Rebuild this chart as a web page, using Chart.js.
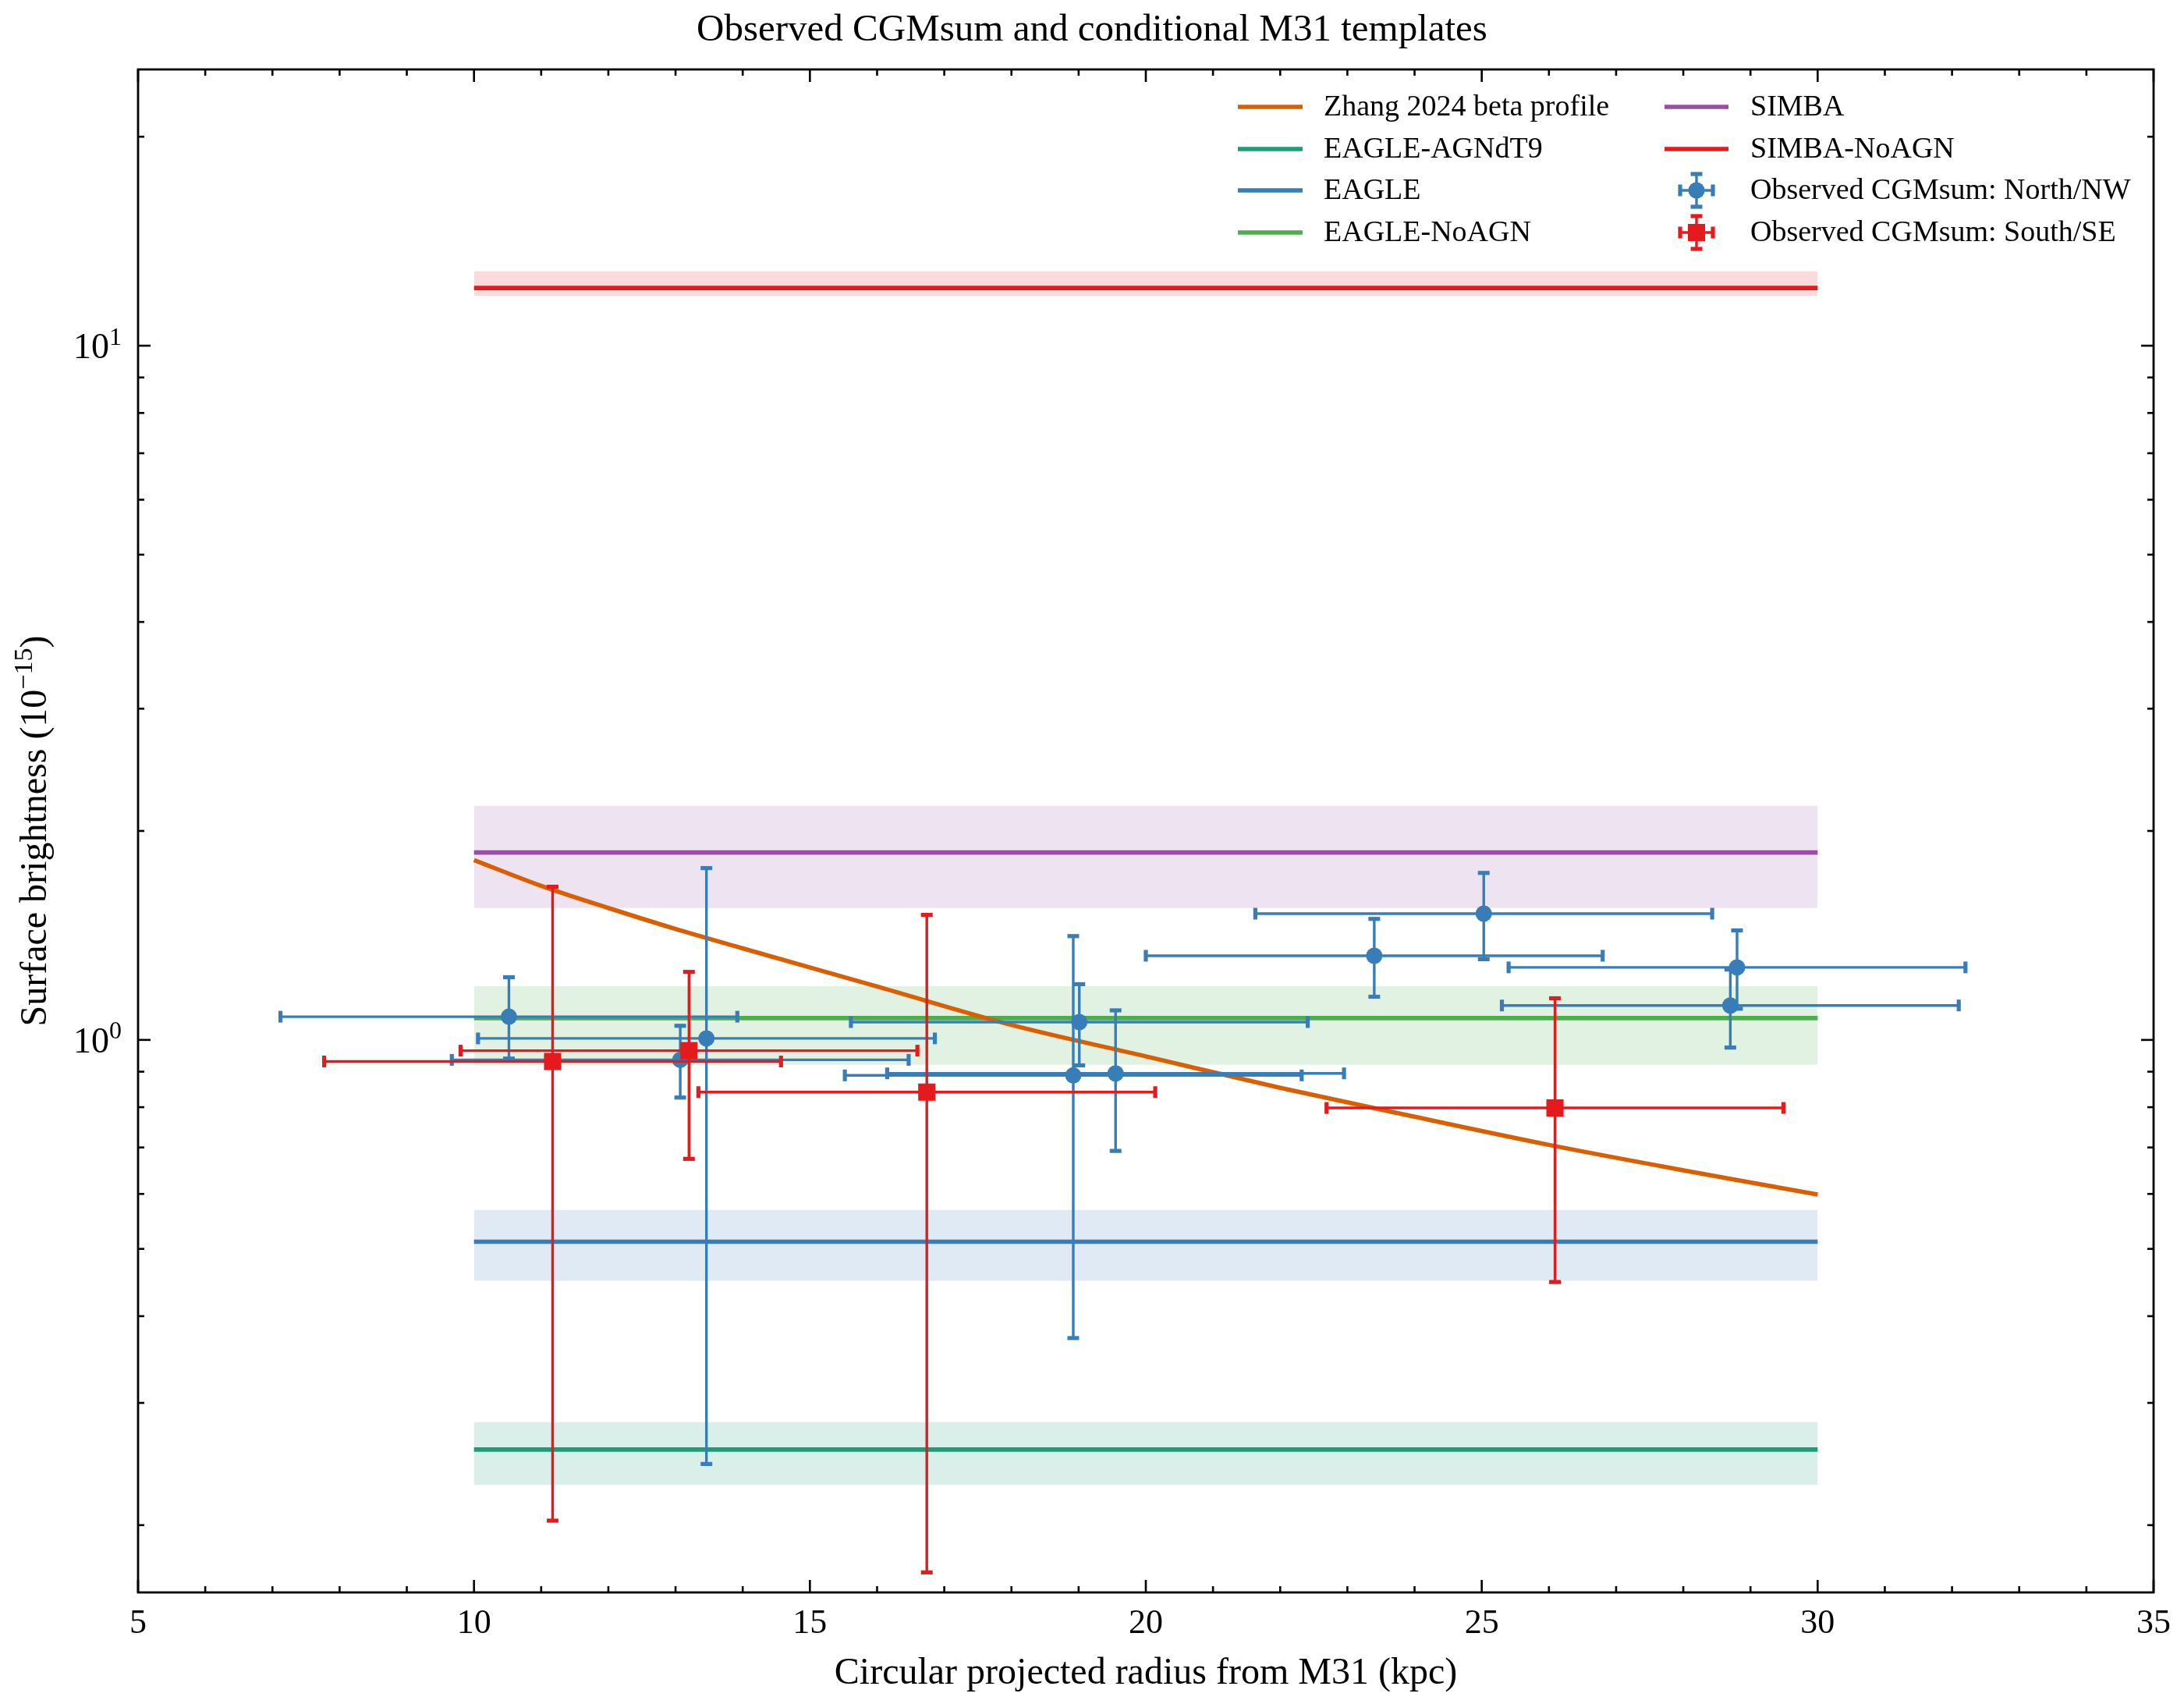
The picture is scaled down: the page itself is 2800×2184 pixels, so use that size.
<!DOCTYPE html>
<html><head><meta charset="utf-8">
<script src="https://cdn.jsdelivr.net/npm/chart.js@4.4.1/dist/chart.umd.min.js"></script>
<style>html,body{margin:0;padding:0;background:#fff}#wrap{width:2800px;height:2184px}</style>
</head><body><div id="wrap"><canvas id="c" width="2800" height="2184"></canvas></div>
<script>
// ---------------- data ----------------
const chartTitle = 'Observed CGMsum and conditional M31 templates';
const xAxisTitle = 'Circular projected radius from M31 (kpc)';
const yAxisTitleParts = [{t:'Surface brightness (10'},{t:'\u221215',sup:true},{t:')'}];

const xMajorTicks = [5, 10, 15, 20, 25, 30, 35];
const xTickLabels = ['5', '10', '15', '20', '25', '30', '35'];
const xMinorTicks = [6,7,8,9,11,12,13,14,16,17,18,19,21,22,23,24,26,27,28,29,31,32,33,34];
const yMajorTicks = [1, 10];
const yTickBase = ['10', '10'];
const yTickExp = ['0', '1'];
const yMinorTicks = [0.2,0.3,0.4,0.5,0.6,0.7,0.8,0.9,2,3,4,5,6,7,8,9,20];

// model: Zhang 2024 beta profile
const zhangX = [10, 11, 12, 13, 14, 16, 18, 20, 22, 24, 26, 28, 30];
const zhangY = [1.816, 1.667, 1.549, 1.445, 1.355, 1.194, 1.051, 0.947, 0.853, 0.775, 0.706, 0.649, 0.599];

// conditional templates (flat over 10-30 kpc)
const templateNames = ['EAGLE-AGNdT9', 'EAGLE', 'EAGLE-NoAGN', 'SIMBA', 'SIMBA-NoAGN'];
const templateX = [10, 30];
const templateMid = [0.257, 0.512, 1.075, 1.862, 12.11];
const templateLo  = [0.2285, 0.450, 0.921, 1.549, 11.80];
const templateHi  = [0.2814, 0.569, 1.195, 2.174, 12.80];

// observed CGMsum North/NW
const northX    = [10.52, 13.46, 13.07, 19.01, 18.92, 19.55, 25.03, 23.40, 28.80, 28.70];
const northXErr = [3.40, 3.40, 3.40, 3.40, 3.40, 3.40, 3.40, 3.40, 3.40, 3.40];
const northY    = [1.080, 1.005, 0.936, 1.061, 0.889, 0.895, 1.520, 1.322, 1.272, 1.121];
const northYLo  = [0.940, 0.245, 0.826, 0.919, 0.372, 0.692, 1.307, 1.154, 1.109, 0.975];
const northYHi  = [1.231, 1.768, 1.048, 1.203, 1.411, 1.103, 1.740, 1.494, 1.438, 1.263];

// observed CGMsum South/SE
const southX    = [11.17, 13.20, 16.74, 26.09];
const southXErr = [3.40, 3.40, 3.40, 3.40];
const southY    = [0.931, 0.965, 0.841, 0.798];
const southYLo  = [0.203, 0.674, 0.171, 0.448];
const southYHi  = [1.662, 1.253, 1.514, 1.148];

const legendLabels = ['Zhang 2024 beta profile', 'EAGLE-AGNdT9', 'EAGLE', 'EAGLE-NoAGN',
  'SIMBA', 'SIMBA-NoAGN', 'Observed CGMsum: North/NW', 'Observed CGMsum: South/SE'];

// ---------------- styles ----------------
const COL_ZHANG = '#d95f02';
const templateColors = ['#1b9e77', '#377eb8', '#4daf4a', '#984ea3', '#e41a1c'];
const COL_N = '#377eb8', COL_S = '#e41a1c';
const FONT = '"Liberation Serif", "Times New Roman", serif';
const LW = 5.6, ELW = 3.4, CAPW = 5.2, CAP = 15;

function rgba(hex, a) {
  const n = parseInt(hex.slice(1), 16);
  return `rgba(${(n>>16)&255},${(n>>8)&255},${n&255},${a})`;
}
const xy = (xs, ys) => xs.map((x, i) => ({x, y: ys[i]}));

const datasets = [];
templateNames.forEach((name, i) => {
  datasets.push({ label: name + ' band', data: templateX.map(x => ({x, y: templateHi[i]})),
    showLine: true, borderColor: 'transparent', borderWidth: 0, pointRadius: 0,
    fill: {value: templateLo[i]}, backgroundColor: rgba(templateColors[i], 0.16), order: 100 });
});
templateNames.forEach((name, i) => {
  datasets.push({ label: name, data: templateX.map(x => ({x, y: templateMid[i]})),
    showLine: true, borderColor: templateColors[i], borderWidth: LW, pointRadius: 0,
    fill: false, order: 50 });
});
datasets.push({ label: 'Zhang 2024 beta profile', data: xy(zhangX, zhangY), showLine: true,
  borderColor: COL_ZHANG, borderWidth: LW, pointRadius: 0, fill: false,
  cubicInterpolationMode: 'monotone', order: 40 });
datasets.push({ label: 'Observed CGMsum: North/NW', data: xy(northX, northY), showLine: false,
  pointStyle: 'circle', pointRadius: 10.5, backgroundColor: COL_N, borderColor: COL_N, borderWidth: 0,
  errInfo: {x: northX, xerr: northXErr, y: northY, ylo: northYLo, yhi: northYHi, color: COL_N}, order: 10 });
datasets.push({ label: 'Observed CGMsum: South/SE', data: xy(southX, southY), showLine: false,
  pointStyle: 'rect', pointRadius: 15.6, backgroundColor: COL_S, borderColor: COL_S, borderWidth: 0,
  errInfo: {x: southX, xerr: southXErr, y: southY, ylo: southYLo, yhi: southYHi, color: COL_S}, order: 5 });

function seg(ctx, x1, y1, x2, y2) { ctx.beginPath(); ctx.moveTo(x1, y1); ctx.lineTo(x2, y2); ctx.stroke(); }

const errPlugin = {
  id: 'errbars',
  beforeDatasetDraw(chart, args) {
    const ds = chart.data.datasets[args.index];
    if (!ds.errInfo) return;
    const e = ds.errInfo, sx = chart.scales.x, sy = chart.scales.y, ctx = chart.ctx;
    ctx.save();
    ctx.strokeStyle = e.color; ctx.lineCap = 'butt';
    for (let i = 0; i < e.x.length; i++) {
      const px = sx.getPixelForValue(e.x[i]), py = sy.getPixelForValue(e.y[i]);
      const xl = sx.getPixelForValue(e.x[i] - e.xerr[i]), xr = sx.getPixelForValue(e.x[i] + e.xerr[i]);
      const yl = sy.getPixelForValue(e.ylo[i]), yh = sy.getPixelForValue(e.yhi[i]);
      ctx.lineWidth = ELW;
      seg(ctx, xl, py, xr, py); seg(ctx, px, yl, px, yh);
      ctx.lineWidth = CAPW;
      seg(ctx, xl, py - CAP/2, xl, py + CAP/2); seg(ctx, xr, py - CAP/2, xr, py + CAP/2);
      seg(ctx, px - CAP/2, yl, px + CAP/2, yl); seg(ctx, px - CAP/2, yh, px + CAP/2, yh);
    }
    ctx.restore();
  }
};

function drawRich(ctx, parts, x, y, size, align) {
  const supSize = Math.round(size * 0.7);
  let w = 0;
  parts.forEach(p => { ctx.font = `${p.sup ? supSize : size}px ${FONT}`; p._w = ctx.measureText(p.t).width; w += p._w; });
  let cx = align === 'center' ? x - w/2 : (align === 'right' ? x - w : x);
  ctx.textAlign = 'left'; ctx.textBaseline = 'alphabetic';
  parts.forEach(p => {
    ctx.font = `${p.sup ? supSize : size}px ${FONT}`;
    ctx.fillText(p.t, cx, p.sup ? y - size * 0.38 : y);
    cx += p._w;
  });
}

const framePlugin = {
  id: 'frame',
  afterDraw(chart) {
    const ctx = chart.ctx, a = chart.chartArea, sx = chart.scales.x, sy = chart.scales.y;
    ctx.save();
    ctx.strokeStyle = '#000'; ctx.fillStyle = '#000';
    ctx.lineWidth = 2.8;
    ctx.strokeRect(a.left, a.top, a.right - a.left, a.bottom - a.top);
    ctx.lineWidth = 2.6;
    const MJ = 16, MN = 8;
    xMajorTicks.forEach(v => { const p = sx.getPixelForValue(v); seg(ctx, p, a.bottom, p, a.bottom - MJ); seg(ctx, p, a.top, p, a.top + MJ); });
    xMinorTicks.forEach(v => { const p = sx.getPixelForValue(v); seg(ctx, p, a.bottom, p, a.bottom - MN); seg(ctx, p, a.top, p, a.top + MN); });
    yMajorTicks.forEach(v => { const p = sy.getPixelForValue(v); seg(ctx, a.left, p, a.left + MJ, p); seg(ctx, a.right, p, a.right - MJ, p); });
    yMinorTicks.forEach(v => { const p = sy.getPixelForValue(v); seg(ctx, a.left, p, a.left + MN, p); seg(ctx, a.right, p, a.right - MN, p); });
    // x tick labels
    ctx.font = `44px ${FONT}`; ctx.textAlign = 'center'; ctx.textBaseline = 'alphabetic';
    xMajorTicks.forEach((v, i) => ctx.fillText(xTickLabels[i], sx.getPixelForValue(v), a.bottom + 52));
    // y tick labels
    yMajorTicks.forEach((v, i) => {
      drawRich(ctx, [{t: yTickBase[i]}, {t: yTickExp[i], sup: true}], a.left - 21, sy.getPixelForValue(v) + 16, 46, 'right');
    });
    // title
    ctx.font = `49px ${FONT}`; ctx.textAlign = 'center';
    ctx.fillText(chartTitle, 1400, 52);
    // x axis title
    ctx.font = `48px ${FONT}`;
    ctx.fillText(xAxisTitle, (a.left + a.right)/2, 2158);
    // y axis title
    ctx.save();
    ctx.translate(59, (a.top + a.bottom)/2);
    ctx.rotate(-Math.PI/2);
    drawRich(ctx, yAxisTitleParts, 0, 0, 48, 'center');
    ctx.restore();
    // legend
    const rows = [137, 191, 244, 298];
    const cols = [{h0: 1587, h1: 1670, tx: 1697}, {h0: 2134, h1: 2216, tx: 2244}];
    const lineCols = [COL_ZHANG, templateColors[0], templateColors[1], templateColors[2], templateColors[3], templateColors[4]];
    legendLabels.forEach((lab, k) => {
      const c = cols[k < 4 ? 0 : 1], y = rows[k % 4];
      if (k < 6) {
        ctx.strokeStyle = lineCols[k]; ctx.lineWidth = LW; seg(ctx, c.h0, y, c.h1, y);
      } else {
        const col = k === 6 ? COL_N : COL_S, cx = (c.h0 + c.h1)/2, hw = 21, hh = 21;
        ctx.strokeStyle = col; ctx.fillStyle = col;
        ctx.lineWidth = ELW; seg(ctx, cx - hw, y, cx + hw, y); seg(ctx, cx, y - hh, cx, y + hh);
        ctx.lineWidth = CAPW;
        seg(ctx, cx - hw, y - CAP/2, cx - hw, y + CAP/2); seg(ctx, cx + hw, y - CAP/2, cx + hw, y + CAP/2);
        seg(ctx, cx - CAP/2, y - hh, cx + CAP/2, y - hh); seg(ctx, cx - CAP/2, y + hh, cx + CAP/2, y + hh);
        ctx.beginPath();
        if (k === 6) { ctx.arc(cx, y, 10.5, 0, Math.PI*2); } else { ctx.rect(cx - 11, y - 11, 22, 22); }
        ctx.fill();
      }
      ctx.fillStyle = '#000'; ctx.font = `38px ${FONT}`; ctx.textAlign = 'left'; ctx.textBaseline = 'middle';
      ctx.fillText(lab, c.tx, y + 1);
    });
    ctx.restore();
  }
};

new Chart(document.getElementById('c'), {
  type: 'scatter',
  data: { datasets },
  options: {
    responsive: false, animation: false, devicePixelRatio: 1,
    layout: { padding: { left: 177, top: 89, right: 39, bottom: 143 } },
    plugins: { legend: { display: false }, tooltip: { enabled: false }, title: { display: false } },
    scales: {
      x: { type: 'linear', min: 5, max: 35, display: false },
      y: { type: 'logarithmic', min: 0.16, max: 25, display: false }
    }
  },
  plugins: [errPlugin, framePlugin]
});
</script></body></html>
